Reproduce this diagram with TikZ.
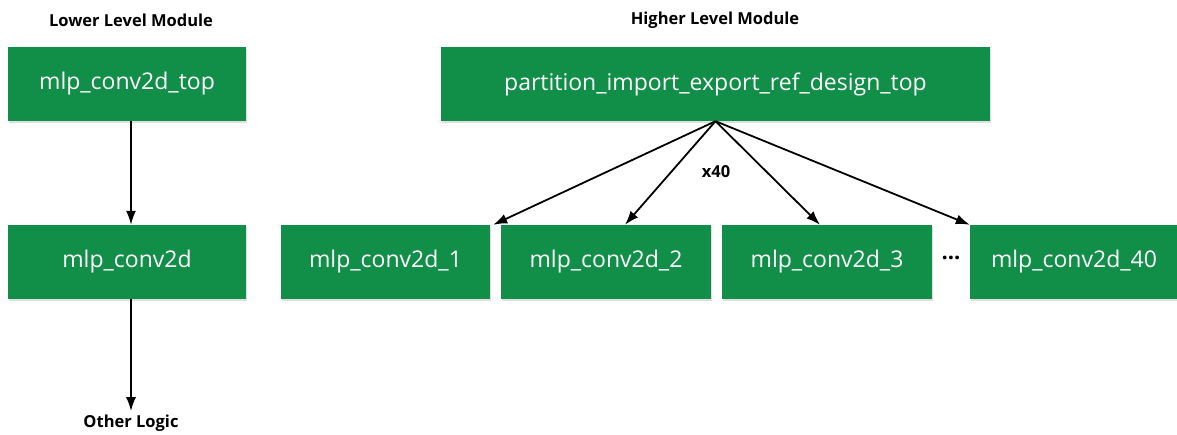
\documentclass[tikz,border=0pt]{standalone}
\usepackage{fontspec}
\setmainfont{Open Sans}
\usetikzlibrary{positioning,shadows,arrows.meta}
\definecolor{modulecolor}{RGB}{17,143,72}

\begin{document}
\begin{tikzpicture}[
    x=1pt, y=-1pt,
    module/.style={rectangle, fill=modulecolor, text=white, minimum height=74pt, inner sep=0pt,
        font=\fontsize{23}{26}\selectfont,
        drop shadow={shadow xshift=1pt, shadow yshift=-2pt, opacity=0.25}},
    heading/.style={font=\fontsize{16.5}{19}\selectfont\bfseries},
    arrow/.style={-{Latex[length=14pt,width=10pt]}, line width=1.8pt}
]
\useasboundingbox (0,0) rectangle (1177,435);

% Lower level module
\node[heading] (lowtitle) at (131,20) {Lower Level Module};
\node[module, minimum width=238pt] (lowtop) at (127,84) {mlp\_conv2d\_top};
\node[module, minimum width=238pt] (conv) at (127,262) {mlp\_conv2d};
\node[heading] (other) at (131,423) {Other Logic};

\draw[arrow] (lowtop.south -| other.north) -- (conv.north -| other.north);
\draw[arrow] (conv.south -| other.north) -- (other.north);

% Higher level module
\node[heading] (hightitle) at (715,20) {Higher Level Module};
\node[module, minimum width=549pt] (top) at (715.5,84) {partition\_import\_export\_ref\_design\_top};

\node[module, minimum width=209pt] (conv1) at (385.5,262) {mlp\_conv2d\_1};
\node[module, minimum width=210pt] (conv2) at (606,262) {mlp\_conv2d\_2};
\node[module, minimum width=210pt] (conv3) at (827,262) {mlp\_conv2d\_3};
\node[heading, font=\fontsize{22}{24}\selectfont\bfseries] (dots) at (951,258) {...};
\node[module, minimum width=208pt] (conv40) at (1074,262) {mlp\_conv2d\_40};

\node[heading] (count) at (716,172) {x40};

% Instances
\draw[arrow] (top.south) -- ([xshift=3pt]conv1.north east);
\draw[arrow] (top.south) -- ([xshift=19pt]conv2.north);
\draw[arrow] (top.south) -- ([xshift=-7pt]conv3.north);
\draw[arrow] (top.south) -- (conv40.north west);

\end{tikzpicture}
\end{document}
